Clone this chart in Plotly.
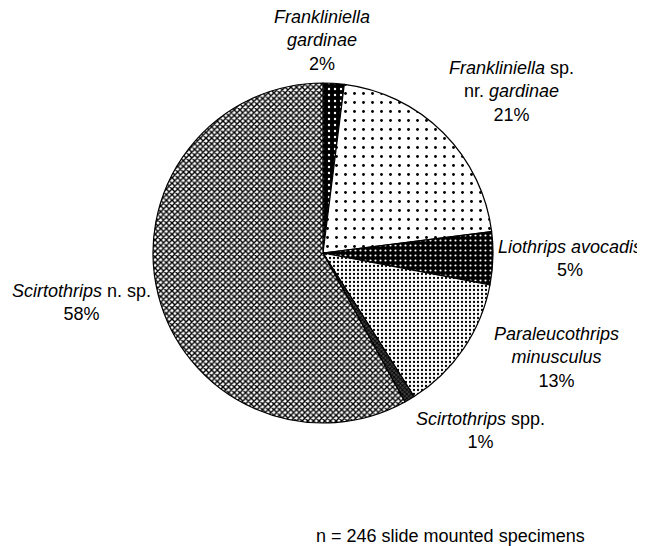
import plotly.graph_objects as go

species = ["Frankliniella gardinae", "Frankliniella sp. nr. gardinae", "Liothrips avocadis",
           "Paraleucothrips minusculus", "Scirtothrips spp.", "Scirtothrips n. sp."]
percent = [2, 21, 5, 13, 1, 58]
label_text = ["<i>Frankliniella</i><br><i>gardinae</i><br>2%",
              "<i>Frankliniella</i> sp.<br>nr. <i>gardinae</i><br>21%",
              "<i>Liothrips avocadis</i><br>5%",
              "<i>Paraleucothrips</i><br><i>minusculus</i><br>13%",
              "<i>Scirtothrips</i> spp.<br>1%",
              "<i>Scirtothrips</i> n. sp.<br>58%"]
label_px = [(322, 40), (511, 91), (570, 259), (556, 357), (480, 430), (81, 302)]
note = "n = 246 slide mounted specimens"

W, H = 645, 546
OFF = 8  # default body margin of the written html page


def px_x(x):
    return (x - OFF) / W


def px_y(y):
    return 1 - (y - OFF) / H


fig = go.Figure(go.Pie(
    labels=species, values=percent, sort=False, direction="clockwise", rotation=0,
    textinfo="none", hoverinfo="label+percent", showlegend=False,
    domain=dict(x=[px_x(153), px_x(493)], y=[px_y(423), px_y(83)]),
    marker=dict(
        line=dict(color="black", width=1.2),
        colors=["black", "white", "black", "white", "#555555", "#9a9a9a"],
        pattern=dict(
            shape=[".", ".", ".", ".", "x", "x"],
            bgcolor=["black", "white", "black", "white", "#444444", "white"],
            fgcolor=["white", "black", "white", "black", "black", "black"],
            size=[6, 9, 5, 4, 3, 4],
            solidity=[0.12, 0.08, 0.15, 0.25, 0.5, 0.58],
            fillmode="replace",
        ),
    ),
))

annotations = []
for txt, (px, py) in zip(label_text, label_px):
    annotations.append(dict(text=txt, x=px_x(px), y=px_y(py), xref="paper", yref="paper",
                            xanchor="center", yanchor="middle", showarrow=False, align="center",
                            font=dict(family="Liberation Sans, Arial", size=18, color="black")))
annotations.append(dict(text=note, x=px_x(450), y=px_y(536), xref="paper", yref="paper",
                        xanchor="center", yanchor="middle", showarrow=False,
                        font=dict(family="Liberation Sans, Arial", size=18, color="black")))

fig.update_layout(width=W, height=H, margin=dict(l=0, r=0, t=0, b=0),
                  paper_bgcolor="white", plot_bgcolor="white", annotations=annotations)
fig.write_html("out.html")
